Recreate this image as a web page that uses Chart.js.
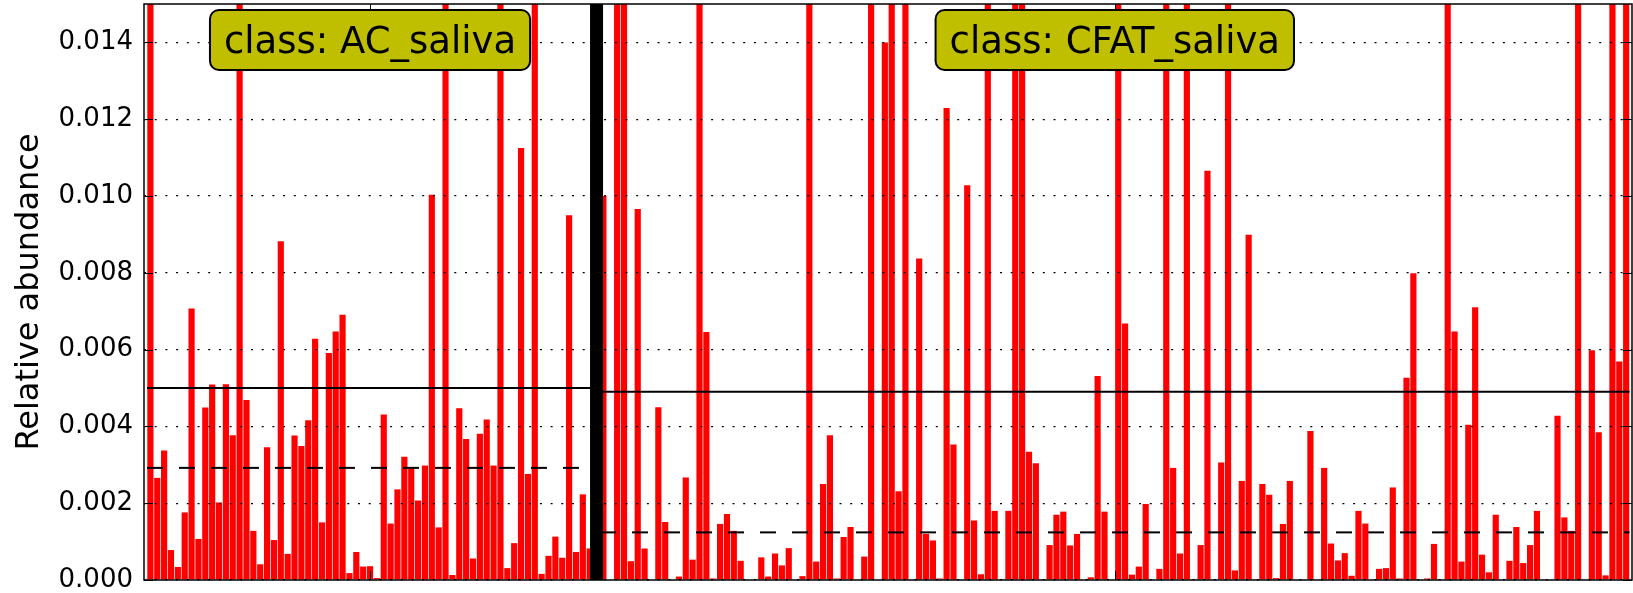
<!DOCTYPE html>
<html>
<head>
<meta charset="utf-8">
<script src="https://cdn.jsdelivr.net/npm/chart.js@4.4.0/dist/chart.umd.min.js"></script>
<style>
  html, body { margin: 0; padding: 0; background: #fff; }
  #wrap { width: 1633px; height: 593px; }
</style>
</head>
<body>
<div id="wrap"><canvas id="abundance"></canvas></div>
<script>
// bars taller than the axis top (0.015) are clipped in the picture, so 0.02 stands in for them
const classNames = ["AC_saliva", "CFAT_saliva"];

const acSaliva = [
  0.02, 0.00266, 0.00337, 0.00078, 0.00034, 0.00176, 0.00707, 0.00107, 0.00449, 0.00509,
  0.00202, 0.0051, 0.00377, 0.02, 0.00469, 0.00128, 0.00041, 0.00346, 0.00104, 0.00882,
  0.00068, 0.00376, 0.00349, 0.00416, 0.00628, 0.0015, 0.00591, 0.00647, 0.00691, 0.00018,
  0.00073, 0.00035, 0.00036, 0.00005, 0.00431, 0.00147, 0.00236, 0.00321, 0.0029, 0.00207,
  0.00298, 0.01003, 0.00137, 0.02, 0.00013, 0.00447, 0.00367, 0.00056, 0.00381, 0.00418,
  0.00298, 0.02, 0.00031, 0.00096, 0.01125, 0.00276, 0.02, 0.00016, 0.00063, 0.00113,
  0.00058, 0.0095, 0.00073, 0.00223, 0.00082
];

const cfatSaliva = [
  0.0100, 0, 0.02, 0.02, 0.00049, 0.00966, 0.00082, 0, 0.0045, 0.00151,
  0, 0.00009, 0.00267, 0.00053, 0.02, 0.00646, 0.00004, 0.00146, 0.00172, 0.00128,
  0.0005, 0, 0, 0.00059, 0.00009, 0.00069, 0.00038, 0.00083, 0, 0.0001,
  0.02, 0.00048, 0.0025, 0.00377, 0.00004, 0.00112, 0.00138, 0, 0.00061, 0.02,
  0, 0.0140, 0.02, 0.00231, 0.02, 0, 0.00837, 0.0012, 0.00103, 0.00004,
  0.01229, 0.00353, 0, 0.01028, 0.00155, 0.00015, 0.02, 0.0018, 0, 0.0018,
  0.02, 0.02, 0.00334, 0.00304, 0, 0.00091, 0.0017, 0.00178, 0.0009, 0.0012,
  0, 0.00007, 0.00531, 0.00178, 0, 0.02, 0.00668, 0.00014, 0.00035, 0.00198,
  0, 0.00029, 0.02, 0.00292, 0.00069, 0.02, 0, 0.00091, 0.01066, 0,
  0.00306, 0.02, 0.00025, 0.00258, 0.00899, 0, 0.0025, 0.00222, 0.00005, 0.00146,
  0.00258, 0, 0, 0.00388, 0, 0.00292, 0.00095, 0.00051, 0.0007, 0.00011,
  0.0018, 0.00147, 0, 0.00029, 0.00031, 0.00241, 0.00004, 0.00527, 0.00799, 0,
  0.00004, 0.00094, 0, 0.02, 0.00647, 0.00048, 0.00404, 0.0071, 0.00066, 0.0002,
  0.0017, 0, 0.0005, 0.00138, 0.00044, 0.00091, 0.0018, 0, 0, 0.00428,
  0.00163, 0.00128, 0.02, 0, 0.00598, 0.00385, 0.00012, 0.02, 0.00569, 0.02
];

const classMeans = [0.0050, 0.0049];
const classMedians = [0.00292, 0.00124];
const yTicks = [0, 0.002, 0.004, 0.006, 0.008, 0.010, 0.012, 0.014];

// one empty slot between the classes, where the thick separator goes
const cfatStart = acSaliva.length + 1;
const classRanges = [
  [0, acSaliva.length - 1],
  [cfatStart, cfatStart + cfatSaliva.length - 1]
];

const bars = acSaliva.map((v, i) => ({x: i, y: v}))
  .concat(cfatSaliva.map((v, i) => ({x: cfatStart + i, y: v})));

const overlay = {
  id: 'overlay',
  afterDraw(chart) {
    const {ctx, chartArea: a, scales: {x, y}} = chart;
    ctx.save();

    // mean (solid) and median (dashed) per class
    classRanges.forEach((r, k) => {
      const x0 = x.getPixelForValue(r[0] - 0.5);
      const x1 = x.getPixelForValue(r[1] + 0.5);
      ctx.strokeStyle = '#000';
      ctx.lineWidth = 2;
      ctx.setLineDash([]);
      ctx.beginPath();
      ctx.moveTo(x0, y.getPixelForValue(classMeans[k]));
      ctx.lineTo(x1, y.getPixelForValue(classMeans[k]));
      ctx.stroke();
      ctx.setLineDash([16, 16]);
      ctx.beginPath();
      ctx.moveTo(x0, y.getPixelForValue(classMedians[k]));
      ctx.lineTo(x1, y.getPixelForValue(classMedians[k]));
      ctx.stroke();
    });
    ctx.setLineDash([]);

    // class separator
    const sx = x.getPixelForValue(acSaliva.length);
    ctx.fillStyle = '#000';
    ctx.fillRect(sx - 6.5, a.top, 13, a.bottom - a.top);

    // frame and inward ticks
    ctx.lineWidth = 1.5;
    ctx.strokeRect(a.left, a.top, a.right - a.left, a.bottom - a.top);
    ctx.lineWidth = 1;
    ctx.beginPath();
    yTicks.forEach(v => {
      const py = Math.round(y.getPixelForValue(v)) + 0.5;
      ctx.moveTo(a.left, py); ctx.lineTo(a.left + 9, py);
      ctx.moveTo(a.right - 9, py); ctx.lineTo(a.right, py);
    });
    classRanges.forEach(r => {
      const px = Math.round(x.getPixelForValue((r[0] + r[1]) / 2)) + 0.5;
      ctx.moveTo(px, a.bottom); ctx.lineTo(px, a.bottom - 9);
      ctx.moveTo(px, a.top); ctx.lineTo(px, a.top + 9);
    });
    ctx.stroke();

    // class label boxes
    ctx.font = '37px "DejaVu Sans"';
    ctx.textAlign = 'center';
    ctx.textBaseline = 'alphabetic';
    classRanges.forEach((r, k) => {
      const label = 'class: ' + classNames[k];
      const cx = x.getPixelForValue((r[0] + r[1]) / 2);
      const w = ctx.measureText(label).width + 28;
      ctx.beginPath();
      ctx.roundRect(cx - w / 2, 10, w, 60, 9);
      ctx.fillStyle = '#bfbf00';
      ctx.fill();
      ctx.lineWidth = 2;
      ctx.strokeStyle = '#000';
      ctx.stroke();
      ctx.fillStyle = '#000';
      ctx.fillText(label, cx, 53);
    });
    ctx.restore();
  }
};

new Chart(document.getElementById('abundance'), {
  type: 'bar',
  data: {
    datasets: [
      {
        label: 'Relative abundance',
        data: bars,
        backgroundColor: '#ff0000',
        borderWidth: 0,
        barPercentage: 0.9,
        categoryPercentage: 1
      }
    ]
  },
  options: {
    responsive: true,
    maintainAspectRatio: false,
    animation: false,
    devicePixelRatio: 1,
    layout: { padding: {top: 4, right: 1, bottom: 13, left: 0} },
    scales: {
      x: {
        type: 'linear',
        display: false,
        offset: false,
        min: -0.93,
        max: 215.85
      },
      y: {
        min: 0,
        max: 0.015,
        afterBuildTicks: scale => { scale.ticks = yTicks.map(v => ({value: v})); },
        afterFit: scale => {
          scale.width = 144;
          scale.paddingTop = 0;
          scale.paddingBottom = 0;
        },
        ticks: {
          padding: 11,
          color: '#000',
          font: {family: 'DejaVu Sans', size: 26},
          callback: v => v.toFixed(3)
        },
        grid: { color: '#000', lineWidth: 1.2, drawTicks: false, tickLength: 0, z: 1 },
        border: { display: false, dash: [2, 8.7] },
        title: {
          display: true,
          text: 'Relative abundance',
          color: '#000',
          font: {family: 'DejaVu Sans', size: 32},
          padding: {top: 10, bottom: 0}
        }
      }
    },
    plugins: {
      legend: { display: false },
      tooltip: { enabled: false }
    }
  },
  plugins: [overlay]
});
</script>
</body>
</html>
